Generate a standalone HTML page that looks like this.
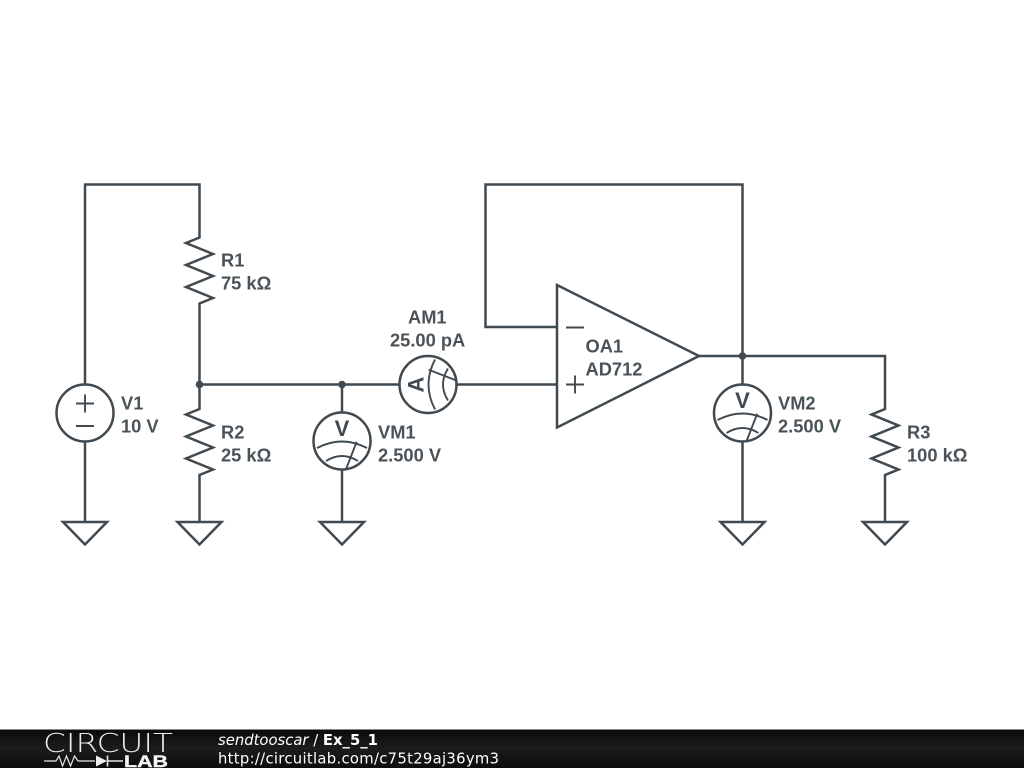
<!DOCTYPE html>
<html>
<head>
<meta charset="utf-8">
<style>
html,body{margin:0;padding:0;background:#fff;}
svg{display:block;}
.w{fill:none;stroke:#404a50;stroke-width:2.5;stroke-linejoin:miter;stroke-linecap:butt;}
.t{fill:none;stroke:#404a50;stroke-width:1.9;}
.l{font-family:"Liberation Sans",sans-serif;font-size:18.3px;font-weight:bold;fill:#4a5358;}
.m{font-family:"Liberation Sans",sans-serif;font-size:22px;font-weight:bold;fill:#404a50;text-anchor:middle;}
.f{font-family:"DejaVu Sans",sans-serif;font-size:14.8px;fill:#fff;}
</style>
</head>
<body>
<svg width="1024" height="768" viewBox="0 0 1024 768" xmlns="http://www.w3.org/2000/svg">
<defs>
<linearGradient id="bar" x1="0" y1="0" x2="0" y2="1">
<stop offset="0" stop-color="#0a0a0a"/>
<stop offset="0.5" stop-color="#1c1c1c"/>
<stop offset="1" stop-color="#0c0c0c"/>
</linearGradient>
<g id="gnd"><path class="w" d="M-22 522H22L0 544.5Z"/></g>
<g id="meter">
<circle class="w" r="28.5" cx="0" cy="0"/>
<path class="t" d="M-25 7Q0 -6 25 7"/>
<path class="t" d="M-16 20Q0 10 16 20"/>
<path class="t" d="M3.7 29L14.7 0.7"/>
</g>
</defs>
<rect width="1024" height="768" fill="#fff"/>

<!-- wires -->
<path class="w" d="M85 384.5V184.500H199.500V237.5L186 243L213 254L186 265L213 276L186 287L213 298L199.5 303.5V409L186 414.5L213 425.5L186 436.5L213 447.5L186 458.5L213 469.5L199.5 475V522"/>
<path class="w" d="M85 441.5V522"/>
<path class="w" d="M199.5 384.5H399.5"/>
<path class="w" d="M342 384.5V412.5"/>
<path class="w" d="M342 469.5V522"/>
<path class="w" d="M456.5 384.5H557"/>
<path class="w" d="M557 327H485.5V184.500H742.5V384.5"/>
<path class="w" d="M699 356H885V409L871.5 414.5L898.5 425.5L871.5 436.5L898.5 447.5L871.5 458.5L898.5 469.5L885 475V522"/>
<path class="w" d="M742.5 441.5V522"/>
<path class="w" d="M557 285L699 356L557 427.500Z"/>
<path class="t" d="M566 327.5H584M566 384.5H584M575 375.5V393.5"/>

<circle cx="199.5" cy="384.5" r="3.8" fill="#404a50"/>
<circle cx="342" cy="384.5" r="3.8" fill="#404a50"/>
<circle cx="742.5" cy="356" r="3.8" fill="#404a50"/>

<!-- source -->
<circle class="w" cx="85" cy="413" r="28.5"/>
<path class="t" d="M76 403.5H94M85 394.5V412.5M76 426H94"/>

<!-- grounds -->
<use href="#gnd" x="85"/>
<use href="#gnd" x="199.5"/>
<use href="#gnd" x="342"/>
<use href="#gnd" x="742.5"/>
<use href="#gnd" x="885"/>

<!-- meters -->
<use href="#meter" transform="translate(342 441)"/>
<text class="m" x="342" y="436">V</text>
<use href="#meter" transform="translate(742.5 413)"/>
<text class="m" x="742.5" y="408">V</text>
<use href="#meter" transform="translate(428 384.5) rotate(-90)"/>
<text class="m" transform="translate(423.5 384.5) rotate(-90)" x="0" y="0">A</text>

<!-- labels -->
<text class="l" x="221" y="266.500">R1</text>
<text class="l" x="221" y="289.500">75 kΩ</text>
<text class="l" x="121" y="409.500">V1</text>
<text class="l" x="121" y="432.500">10 V</text>
<text class="l" x="221" y="438.500">R2</text>
<text class="l" x="221" y="461.500">25 kΩ</text>
<text class="l" x="378" y="438.500">VM1</text>
<text class="l" x="378" y="461.500">2.500 V</text>
<text class="l" x="408" y="323.500">AM1</text>
<text class="l" x="390" y="346.500">25.00 pA</text>
<text class="l" x="585.500" y="352.500">OA1</text>
<text class="l" x="585.500" y="375.500">AD712</text>
<text class="l" x="778" y="409.500">VM2</text>
<text class="l" x="778" y="432.500">2.500 V</text>
<text class="l" x="907" y="438.500">R3</text>
<text class="l" x="907" y="461.500">100 kΩ</text>

<!-- footer -->
<rect x="0" y="729" width="1024" height="39" fill="url(#bar)"/>
<rect x="0" y="729" width="1024" height="1" fill="#888"/>
<text x="43" y="752" font-family="'DejaVu Sans ExtraLight','DejaVu Sans',sans-serif" font-weight="200" font-size="26" fill="#eeeeee" textLength="130" lengthAdjust="spacingAndGlyphs">CIRCUIT</text>
<path d="M44 761H56L59 756L62.500 766L66.500 756L70.500 766L74.500 756L78 761H95" fill="none" stroke="#e8e8e8" stroke-width="1.2"/>
<path d="M96 755.500L107 761L96 766.500Z" fill="#f0f0f0"/>
<path d="M107.500 755.500V766.500M108 761H123" fill="none" stroke="#e8e8e8" stroke-width="1.6"/>
<text x="124" y="767" font-family="'Liberation Sans',sans-serif" font-size="17" font-weight="bold" fill="#f4f4f4" stroke="#f4f4f4" stroke-width="0.4" textLength="44" lengthAdjust="spacingAndGlyphs">LAB</text>
<text class="f" x="218" y="745"><tspan font-style="italic">sendtooscar</tspan> / <tspan font-weight="bold">Ex_5_1</tspan></text>
<text class="f" x="218" y="763.500" textLength="281" lengthAdjust="spacing">http://circuitlab.com/c75t29aj36ym3</text>
</svg>
</body>
</html>
